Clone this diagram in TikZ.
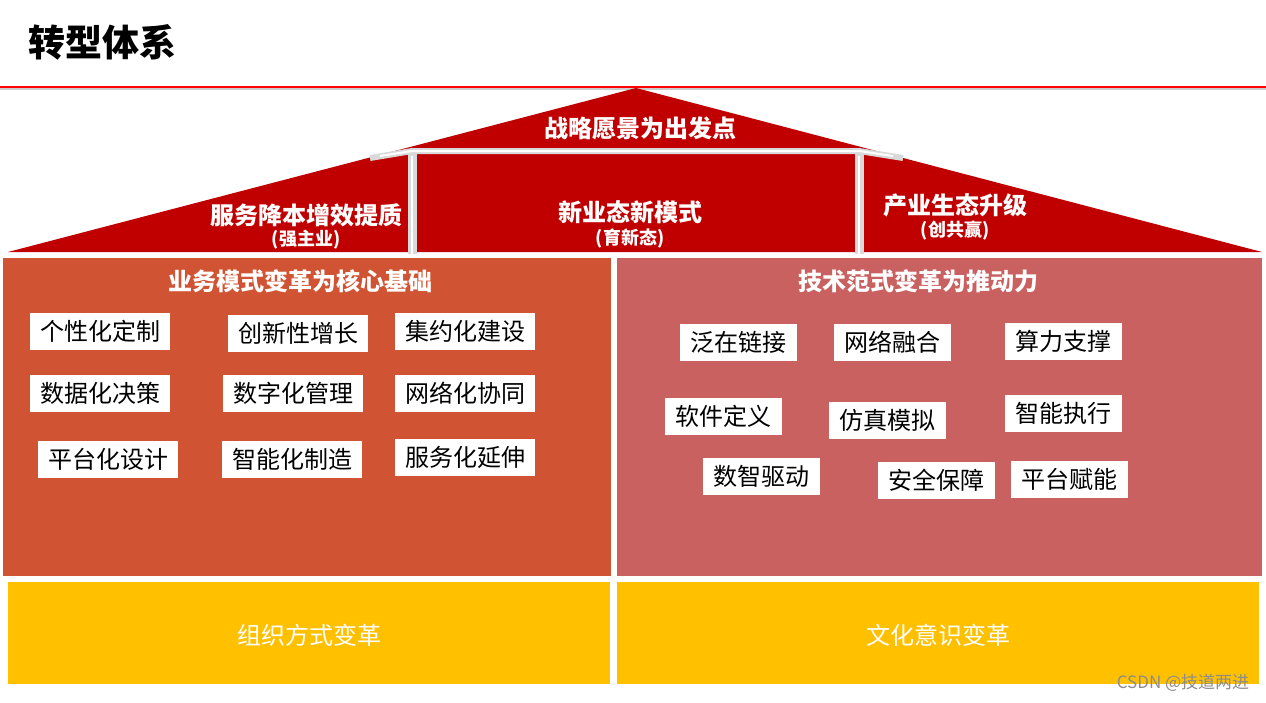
\documentclass[tikz,border=0pt]{standalone}
\usepackage{fontspec}
\setmainfont{Noto Sans CJK SC}
\begin{document}
\begin{tikzpicture}[x=1pt,y=-1pt,
  lbox/.style={fill=white,minimum width=140pt,minimum height=37pt,inner sep=0pt,font=\fontsize{24}{27}\selectfont},
  rbox/.style={fill=white,minimum width=117pt,minimum height=37pt,inner sep=0pt,font=\fontsize{24}{27}\selectfont},
  wbig/.style={text=white,font=\bfseries\fontsize{24}{27}\selectfont,inner sep=0pt},
  wsmall/.style={text=white,font=\bfseries\fontsize{18}{20}\selectfont,inner sep=0pt}]
\definecolor{roofred}{HTML}{C00000}
\definecolor{leftp}{HTML}{D05434}
\definecolor{rightp}{HTML}{C96160}
\definecolor{ygold}{HTML}{FFC000}
\useasboundingbox (0,0) rectangle (1266,702);
\fill[white] (0,0) rectangle (1266,702);
% title
\node[anchor=west,inner sep=0pt,font=\bfseries\fontsize{37}{40}\selectfont] (title) at (28,42) {转型体系};
\draw[black!20,line width=2.5pt] (0,89) -- (1266,89);
\draw[red,line width=2pt] (0,87) -- (1266,87);
% roof
\fill[roofred] (8,252) -- (636,88) -- (1262,252) -- cycle;
\draw[black!15,line width=9pt] (412,151) -- (412,254);
\draw[black!15,line width=9pt] (859,151) -- (859,254);
\draw[black!15,line width=6pt,line join=miter] (370,158) -- (412,151) -- (859,151) -- (903,158);
\draw[white,line width=2pt] (412,156) -- (412,254);
\draw[white,line width=2pt] (859,156) -- (859,254);
\draw[white,line width=2pt] (380,156) -- (412,151) -- (859,151) -- (893,156);
\node[wbig] (vision) at (640,128) {战略愿景为出发点};
\node[wbig] (r1) at (306,215) {服务降本增效提质};
\node[wsmall] (r1s) at (306,240) {(强主业)};
\node[wbig] (r2) at (630,212) {新业态新模式};
\node[wsmall] (r2s) at (630,238) {(育新态)};
\node[wbig] (r3) at (955,205) {产业生态升级};
\node[wsmall] (r3s) at (955,231) {(创共赢)};
% panels
\fill[leftp] (3,258) rectangle (611,576);
\fill[rightp] (617,258) rectangle (1262,576);
\node[wbig] (lt) at (300,281) {业务模式变革为核心基础};
\node[wbig] (rt) at (918,281) {技术范式变革为推动力};
% left boxes
\node[lbox] (a1) at (100,331) {个性化定制};
\node[lbox] (a2) at (298,333) {创新性增长};
\node[lbox] (a3) at (465,331) {集约化建设};
\node[lbox] (a4) at (100,393) {数据化决策};
\node[lbox] (a5) at (293,393) {数字化管理};
\node[lbox] (a6) at (465,393) {网络化协同};
\node[lbox] (a7) at (108,459) {平台化设计};
\node[lbox] (a8) at (292,459) {智能化制造};
\node[lbox] (a9) at (465,457) {服务化延伸};
% right boxes
\node[rbox] (b1) at (738,342) {泛在链接};
\node[rbox] (b2) at (892,342) {网络融合};
\node[rbox] (b3) at (1063,341) {算力支撑};
\node[rbox] (b4) at (723,416) {软件定义};
\node[rbox] (b5) at (887,420) {仿真模拟};
\node[rbox] (b6) at (1063,413) {智能执行};
\node[rbox] (b7) at (761,476) {数智驱动};
\node[rbox] (b8) at (936,480) {安全保障};
\node[rbox] (b9) at (1069,479) {平台赋能};
% bottom
\fill[ygold] (8,582) rectangle (610,684);
\fill[ygold] (617,582) rectangle (1259,684);
\node[text=white,inner sep=0pt,font=\fontsize{24}{27}\selectfont] (org) at (309,635) {组织方式变革};
\node[text=white,inner sep=0pt,font=\fontsize{24}{27}\selectfont] (cul) at (938,635) {文化意识变革};
\node[text=black!45,inner sep=0pt,font=\fontsize{17}{19}\selectfont] (wm) at (1183,683) {CSDN @技道两进};
\end{tikzpicture}
\end{document}
